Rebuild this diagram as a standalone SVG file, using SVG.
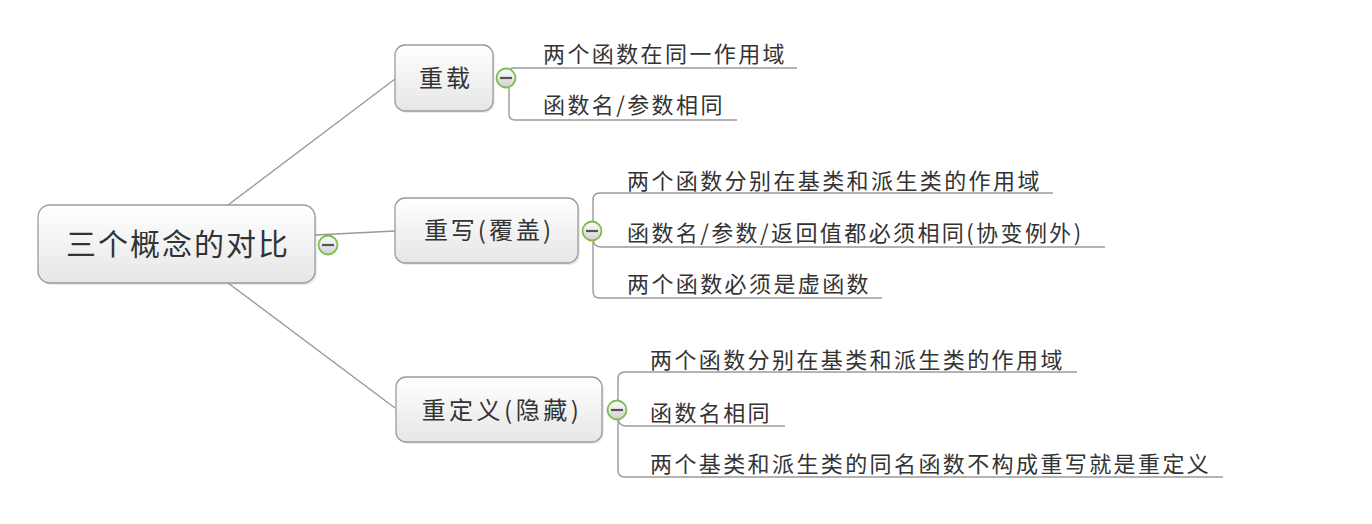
<svg xmlns="http://www.w3.org/2000/svg" width="1372" height="524" viewBox="0 0 1372 524">
<style>
.node{fill:url(#ng);stroke:#9a9a9a;stroke-width:1.3}
.shadow{fill:#000;opacity:0.08}
.nt{font-family:"Noto Sans CJK SC","Noto Sans",sans-serif;fill:#333;text-anchor:middle}
.ct{font-family:"Noto Sans CJK SC","Noto Sans",sans-serif;fill:#333;font-size:22px;letter-spacing:2.4px}
.ln{fill:none;stroke:#9a9a9a;stroke-width:1.4}
.ic circle{fill:url(#ig);stroke:#7dbd4a;stroke-width:1.8}
.ic line{stroke:#555;stroke-width:2.2}
</style>
<defs>
<linearGradient id="ng" x1="0" y1="0" x2="0" y2="1">
<stop offset="0" stop-color="#ffffff"/>
<stop offset="1" stop-color="#e6e6e6"/>
</linearGradient>
<linearGradient id="ig" x1="0" y1="0" x2="0" y2="1">
<stop offset="0" stop-color="#ffffff"/>
<stop offset="1" stop-color="#cfcfcf"/>
</linearGradient>
</defs>
<rect width="1372" height="524" fill="#fff"/>
<g id="connectors">
<path class="ln" d="M228 205 L395 79"/>
<path class="ln" d="M315 235 L395 231"/>
<path class="ln" d="M228 283 L395 408"/>
<path class="ln" d="M509 78 V73 Q509 68 514 68 H797"/>
<path class="ln" d="M509 78 V114 Q509 120 515 120 H737"/>
<path class="ln" d="M593 231 V200 Q593 193 600 193 H1053"/>
<path class="ln" d="M593 238 Q593 247 601 247 H1105"/>
<path class="ln" d="M593 231 V291 Q593 298 600 298 H882"/>
<path class="ln" d="M618 410 V379 Q618 372 625 372 H1077"/>
<path class="ln" d="M618 417 Q618 426 626 426 H785"/>
<path class="ln" d="M618 410 V470 Q618 477 625 477 H1223"/>
</g>
<g id="root">
<rect class="shadow" x="40" y="207" width="277" height="78" rx="12"/>
<rect class="node" x="38" y="205" width="277" height="78" rx="12"/>
<text class="nt" x="178" y="255" font-size="30" letter-spacing="2">三个概念的对比</text>
<g class="ic"><circle cx="328" cy="245" r="9.5"/><line x1="322" y1="245" x2="334" y2="245"/></g>
</g>
<g id="n-chongzai">
<rect class="shadow" x="397" y="47" width="98" height="66" rx="10"/>
<rect class="node" x="395" y="45" width="98" height="66" rx="10"/>
<text class="nt" x="446" y="87" font-size="24" letter-spacing="3">重载</text>
<g class="ic"><circle cx="506" cy="78" r="9.5"/><line x1="500" y1="78" x2="512" y2="78"/></g>
</g>
<g id="n-chongxie">
<rect class="shadow" x="397" y="200" width="183" height="65" rx="10"/>
<rect class="node" x="395" y="198" width="183" height="65" rx="10"/>
<text class="nt" x="489" y="239" font-size="24" letter-spacing="3">重写(覆盖)</text>
<g class="ic"><circle cx="592" cy="231" r="9.5"/><line x1="586" y1="231" x2="598" y2="231"/></g>
</g>
<g id="n-chongdingyi">
<rect class="shadow" x="398" y="379" width="206" height="65" rx="10"/>
<rect class="node" x="396" y="377" width="206" height="65" rx="10"/>
<text class="nt" x="502" y="419" font-size="24" letter-spacing="3.5">重定义(隐藏)</text>
<g class="ic"><circle cx="617" cy="410" r="9.5"/><line x1="611" y1="410" x2="623" y2="410"/></g>
</g>
<g id="c1"><text class="ct" x="543" y="62">两个函数在同一作用域</text></g>
<g id="c2"><text class="ct" x="543" y="113">函数名/参数相同</text></g>
<g id="c3"><text class="ct" x="627" y="189">两个函数分别在基类和派生类的作用域</text></g>
<g id="c4"><text class="ct" x="627" y="241">函数名/参数/返回值都必须相同(协变例外)</text></g>
<g id="c5"><text class="ct" x="627" y="292">两个函数必须是虚函数</text></g>
<g id="c6"><text class="ct" x="650" y="368">两个函数分别在基类和派生类的作用域</text></g>
<g id="c7"><text class="ct" x="650" y="421">函数名相同</text></g>
<g id="c8"><text class="ct" x="650" y="472">两个基类和派生类的同名函数不构成重写就是重定义</text></g>
</svg>
